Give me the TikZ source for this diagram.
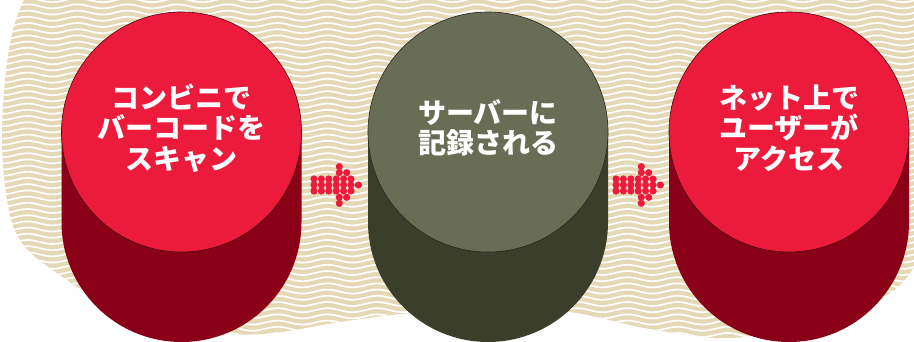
\documentclass[tikz,border=0pt]{standalone}
\usepackage{fontspec}
\newfontfamily\jpfont{Noto Sans CJK JP}
\definecolor{redtop}{HTML}{ED1B3B}
\definecolor{redbody}{HTML}{8A0016}
\definecolor{redline}{HTML}{4A0810}
\definecolor{greentop}{HTML}{6A6D55}
\definecolor{greenbody}{HTML}{3A3E2B}
\definecolor{greenline}{HTML}{25281C}
\definecolor{tanbg}{HTML}{E5D9B5}
\tikzset{
  waveline/.style={white, line width=1.7pt},
  topface/.style={circle, minimum size=240pt, inner sep=0pt, line width=0.6pt},
  lbl/.style={text=white, align=center, inner sep=0pt,
    font={\jpfont\bfseries\fontsize{28pt}{30.5pt}\selectfont}},
  dotc/.style={fill=redtop}
}
\newcommand{\arrowdots}[2]{%
  \foreach \dx/\dy in {25.3/-18.3, 25.3/-12.3, 32.7/-12.3,
     0/-6, 7.4/-6, 14.8/-6, 22.2/-6, 29.6/-6, 37/-6,
     0/0, 7.4/0, 14.8/0, 22.2/0, 29.6/0, 37/0, 44.4/0,
     0/6, 7.4/6, 14.8/6, 22.2/6, 29.6/6, 37/6,
     25.3/12.3, 32.7/12.3, 25.3/18.3}
    {\fill[dotc] (#1+\dx,#2+\dy) circle[radius=3.6pt];}%
}
\begin{document}
\begin{tikzpicture}[x=1pt,y=-1pt]
\useasboundingbox (0,0) rectangle (914,342);
\clip (0,0) rectangle (914,342);
% wavy background blob
\begin{scope}
  \clip plot[smooth cycle, tension=0.6] coordinates {
    (60,-60) (24,0) (9,50) (2,130) (7,200) (20,240) (50,268) (110,305)
    (190,330) (263,334) (340,322) (410,313) (490,307) (570,312) (650,329)
    (730,338) (820,322) (900,285) (935,210) (945,100) (930,-30) (800,-90)
    (480,-110) (180,-90)};
  \fill[tanbg] (-20,-20) rectangle (934,362);
  \foreach \k in {0,...,58} {
    \pgfmathsetmacro\yy{-6+6.2*\k}
    \draw[waveline] (-10,\yy) \foreach \i in {1,...,19} {
      sin ++(12.5,2) cos ++(12.5,-2) sin ++(12.5,-2) cos ++(12.5,2)};
  }
\end{scope}
% cylinder bodies
\fill[redbody] (61.5,132) -- (61.5,222) arc[start angle=180, end angle=360, radius=120pt] -- (301.5,132) -- cycle;
\fill[greenbody] (368,132) -- (368,222) arc[start angle=180, end angle=360, radius=120pt] -- (608,132) -- cycle;
\fill[redbody] (669,132) -- (669,222) arc[start angle=180, end angle=360, radius=120pt] -- (909,132) -- cycle;
% top faces
\node[topface, fill=redtop, draw=redline] (scan) at (181.5,132) {};
\node[topface, fill=greentop, draw=greenline] (server) at (488,132) {};
\node[topface, fill=redtop, draw=redline] (access) at (789,132) {};
% labels
\node[lbl] (scanlbl) at (181.5,128) {コンビニで\\バーコードを\\スキャン};
\node[lbl] (serverlbl) at (488,128) {サーバーに\\記録される};
\node[lbl] (accesslbl) at (789,128) {ネット上で\\ユーザーが\\アクセス};
% dotted arrows
\arrowdots{314}{185}
\arrowdots{616}{185}
\end{tikzpicture}
\end{document}
